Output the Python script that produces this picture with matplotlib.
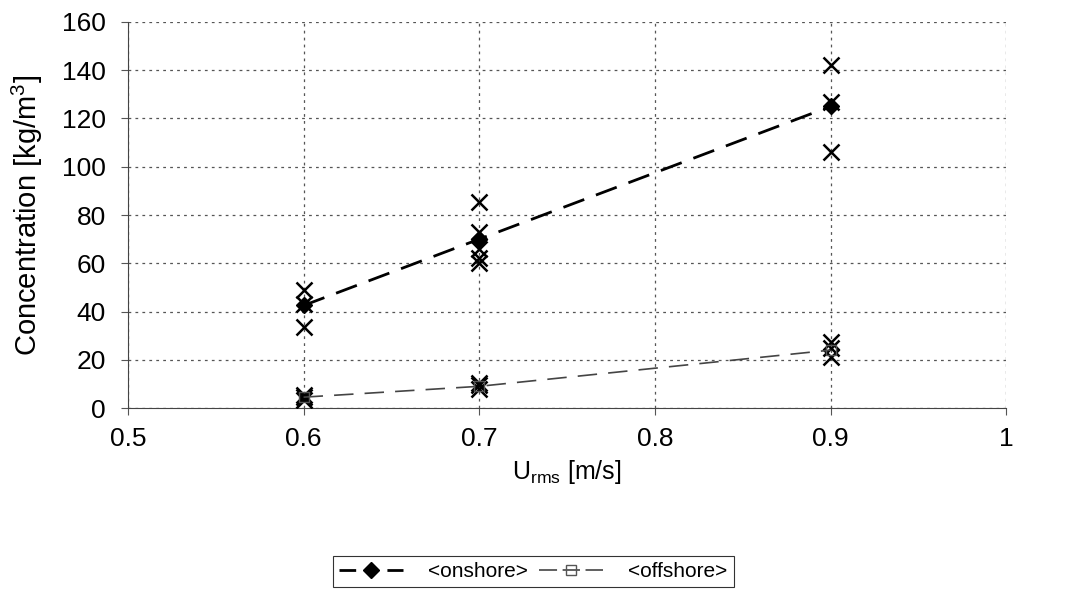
import matplotlib.pyplot as plt

plt.rcParams['font.family'] = ['Liberation Sans', 'DejaVu Sans']
plt.rcParams['lines.scale_dashes'] = False

# individual runs (onshore and offshore) and their averages
u_on = [0.6, 0.6, 0.6, 0.7, 0.7, 0.7, 0.7, 0.7, 0.9, 0.9, 0.9]
c_on = [49, 43, 33.5, 85.5, 73, 66, 62, 60, 142, 127, 106]

u_off = [0.6, 0.6, 0.6, 0.7, 0.7, 0.7, 0.9, 0.9, 0.9]
c_off = [5.5, 4.5, 3.5, 10.5, 9.5, 8, 27.5, 25, 21]

u_mean = [0.6, 0.7, 0.9]
onshore = [42.5, 70, 125]
offshore = [4.5, 9, 24]

fig = plt.figure(figsize=(10.75, 5.91), dpi=100)
ax = fig.add_axes([0.119, 0.3096, 0.817, 0.6532])

ax.plot(u_on, c_on, 'x', color='black', ms=12, mew=1.8, zorder=3)
ax.plot(u_off, c_off, 'x', color='black', ms=12, mew=1.8, zorder=3)

ax.plot(u_mean, onshore, color='black', lw=2, dashes=(16, 9),
        marker='D', ms=8, mfc='black', label='<onshore>', zorder=4)
ax.plot(u_mean, offshore, color='#444444', lw=1.2, dashes=(14, 8),
        marker='s', ms=7, mfc='none', mec='#555555', label='<offshore>', zorder=4)

ax.set_xlim(0.5, 1.0)
ax.set_ylim(0, 160)
ax.set_xticks([0.5, 0.6, 0.7, 0.8, 0.9, 1.0])
ax.set_xticklabels(['0.5', '0.6', '0.7', '0.8', '0.9', '1'])
ax.set_yticks(range(0, 161, 20))
ax.tick_params(labelsize=19, direction='out', length=5, width=0.8, color='#555555')
ax.tick_params(axis='y', pad=11)
ax.tick_params(axis='x', pad=9)

ax.grid(True, linestyle=(0, (2, 3)), color='#555555', linewidth=0.9)
ax.spines['top'].set_visible(False)
ax.spines['right'].set_visible(False)
ax.spines['left'].set_color('#444444')
ax.spines['bottom'].set_color('#444444')

ax.set_xlabel('U$_{\\mathregular{rms}}$ [m/s]', fontsize=18, labelpad=5)
ax.set_ylabel('Concentration [kg/m$^\\mathregular{3}$]', fontsize=21, labelpad=12)

leg = fig.legend(loc='center', bbox_to_anchor=(0.496, 0.033), ncol=2,
                 fontsize=15, frameon=True, fancybox=False, edgecolor='black',
                 handlelength=3.1, handletextpad=1.2, columnspacing=0.5,
                 borderpad=0.3)
leg.get_frame().set_linewidth(0.8)
# dash - marker - dash look for the legend keys
lines = leg.get_lines()
lines[0].set_dashes((12, 22.5))
lines[1].set_dashes((13, 4, 12.5, 4))

fig.savefig('out.png', dpi=100)
